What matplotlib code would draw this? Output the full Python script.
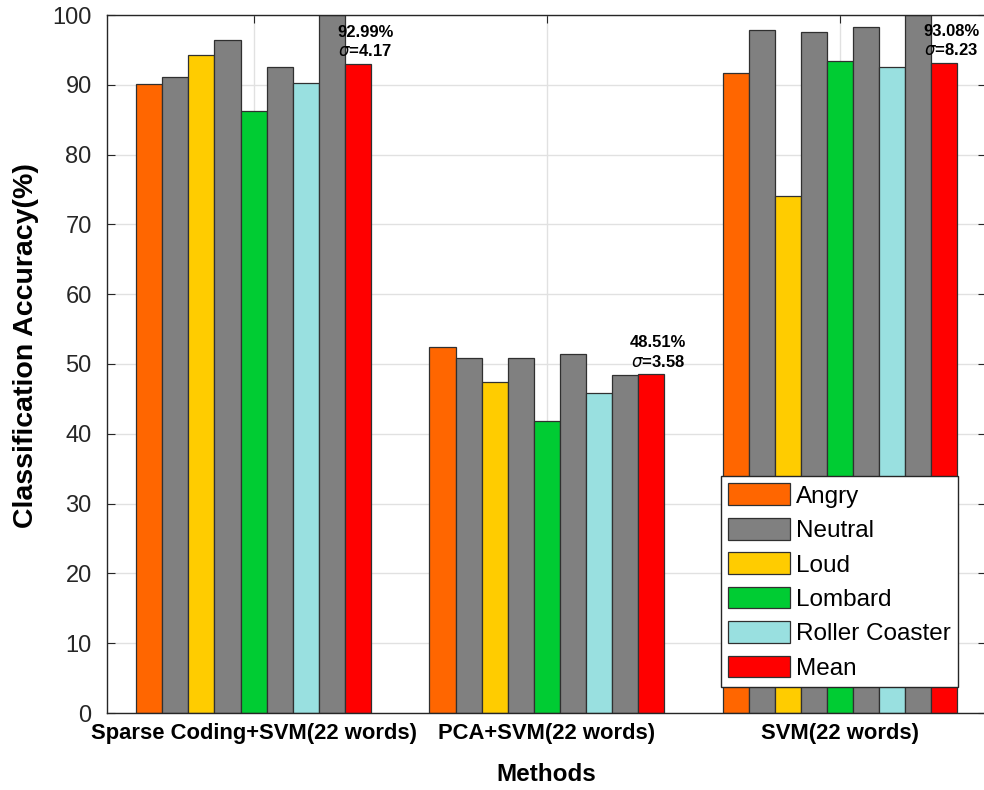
import numpy as np
import matplotlib
matplotlib.use('Agg')
import matplotlib.pyplot as plt

plt.rcParams['font.family'] = ['Liberation Sans', 'DejaVu Sans']

methods = ['Sparse Coding+SVM(22 words)', 'PCA+SVM(22 words)', 'SVM(22 words)']
series = ['Angry', 'Neutral', 'Loud', 'Neutral', 'Lombard', 'Neutral',
          'Roller Coaster', 'Neutral', 'Mean']
colors = ['#ff6600', '#808080', '#ffcc00', '#808080', '#00cc33', '#808080',
          '#99e0e0', '#808080', '#ff0000']
values = [
    [90.1, 91.1, 94.2, 96.4, 86.3, 92.6, 90.2, 100.0, 92.99],
    [52.4, 50.9, 47.4, 50.9, 41.8, 51.5, 45.8, 48.4, 48.51],
    [91.7, 97.9, 74.1, 97.5, 93.4, 98.3, 92.6, 100.0, 93.08],
]
means = [92.99, 48.51, 93.08]
sigmas = [4.17, 3.58, 8.23]

fig = plt.figure(figsize=(9.84, 7.90), dpi=100)
ax = fig.add_axes([107 / 984, 77 / 790, 879.5 / 984, 698 / 790])

x = np.arange(1, len(methods) + 1)
n = len(series)
w = 0.8 / n
seen = set()
for i, (name, c) in enumerate(zip(series, colors)):
    vals = [v[i] for v in values]
    lab = name if name not in seen else '_nolegend_'
    seen.add(name)
    ax.bar(x + (i - (n - 1) / 2) * w, vals, w, color=c, edgecolor='#303030',
           linewidth=0.9, label=lab, zorder=2)

red_x = x + (n - 1) / 2 * w
for xi, m, s in zip(red_x, means, sigmas):
    ax.text(xi + 0.025, m + 0.7, '{:.2f}%\n$\\sigma$={:.2f}'.format(m, s),
            ha='center', va='bottom', fontsize=12, fontweight='bold',
            linespacing=1.25, zorder=3)

ax.set_xlim(0.5, 3.5)
ax.set_ylim(0, 100)
ax.set_xticks(x)
ax.set_xticklabels(methods, fontsize=15.8, fontweight='bold')
ax.set_yticks(range(0, 101, 10))
ax.tick_params(axis='y', labelsize=17, labelcolor='#262626', pad=11)
ax.tick_params(axis='x', pad=7)
ax.tick_params(direction='in', length=6, top=True, right=True, color='#262626')
ax.grid(True, color='#e1e1e1', linewidth=1)
ax.set_axisbelow(True)
for sp in ax.spines.values():
    sp.set_color('#262626')
    sp.set_linewidth(1)

ax.set_xlabel('Methods', fontsize=17.5, fontweight='bold', labelpad=14)
ax.set_ylabel('Classification Accuracy(%)', fontsize=20.5, fontweight='bold')
ax.yaxis.set_label_coords(-0.077, 0.527)

leg = ax.legend(loc='lower right', bbox_to_anchor=(0.9676, 0.0372), fontsize=17.5,
                handlelength=2.55, handleheight=1.0, handletextpad=0.25,
                labelspacing=0.42, borderpad=0.3, borderaxespad=0,
                fancybox=False, framealpha=1, edgecolor='#262626')
leg.get_frame().set_linewidth(1)

fig.savefig('out.png', dpi=100)
